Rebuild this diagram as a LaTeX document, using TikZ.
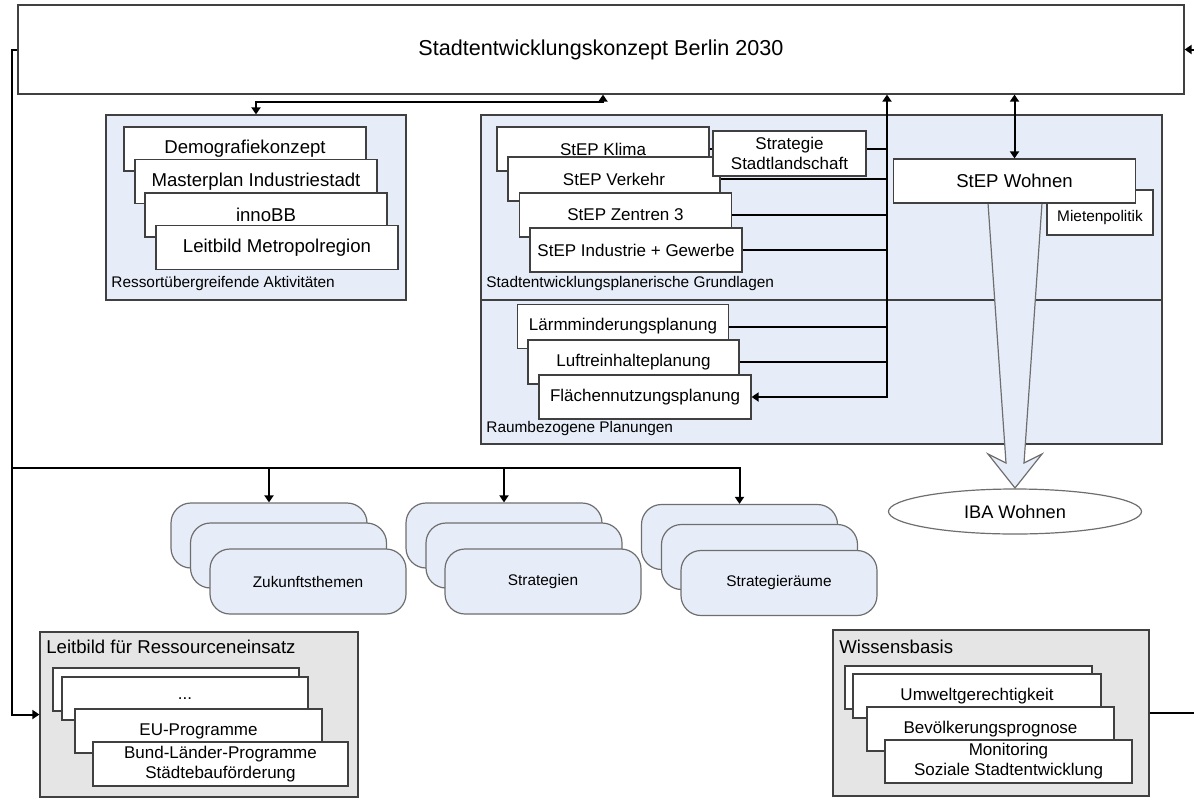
\documentclass[tikz,border=0pt]{standalone}
\usepackage{fontspec}
\setmainfont{Liberation Sans}
\usetikzlibrary{arrows.meta, shapes.geometric}

\definecolor{planblue}{RGB}{231,237,248}
\definecolor{basisgray}{RGB}{229,229,229}
\definecolor{framegray}{RGB}{64,64,64}
\definecolor{pillgray}{RGB}{110,110,110}

\begin{document}
\begin{tikzpicture}[x=0.5pt, y=-0.5pt,
    conn/.style={line width=1pt, >={Triangle[length=3.5pt,width=4.5pt]}},
    sheet/.style={draw=framegray, fill=white, line width=0.6pt, inner sep=0pt, align=center,
        minimum width=106pt, minimum height=22pt, font=\fontsize{8.5}{10}\selectfont},
    big/.style={minimum width=121pt, font=\fontsize{9.3}{11}\selectfont},
    panel/.style={draw=framegray, fill=planblue, line width=0.6pt, inner sep=0pt},
    pill/.style={draw=pillgray, fill=planblue, line width=0.6pt, rounded corners=10pt,
        minimum width=98pt, minimum height=32.5pt, inner sep=0pt, font=\fontsize{7.7}{9}\selectfont},
    caption/.style={anchor=west, inner sep=0pt, font=\fontsize{7.7}{9}\selectfont},
    heading/.style={anchor=west, inner sep=0pt, font=\fontsize{9.3}{11}\selectfont}]
    \useasboundingbox (0,0) rectangle (1194,798);
    \clip (0,0) rectangle (1194,798);

    % Konzept
    \node[draw=framegray, fill=white, line width=0.6pt, inner sep=0pt, minimum width=583pt,
        minimum height=44.5pt, font=\fontsize{10.8}{13}\selectfont] (konzept) at (601,49.5)
        {Stadtentwicklungskonzept Berlin 2030};

    % Ressortuebergreifende Aktivitaeten
    \node[panel, minimum width=150pt, minimum height=92.5pt] (ressort) at (256,207.5) {};
    \node[caption] (ressortlabel) at (111,284) {Ressortübergreifende Aktivitäten};
    \node[sheet, big] (demografie) at (245,149) {Demografiekonzept};
    \node[sheet, big] (masterplan) at (256,181.5) {Masterplan Industriestadt};
    \node[sheet, big] (innobb) at (266,215) {innoBB};
    \node[sheet, big] (metropol) at (277,247.5) {Leitbild Metropolregion};

    % Grundlagen / Planungen
    \node[panel, minimum width=340.5pt, minimum height=92.5pt] (grundlagen) at (821.5,207.5) {};
    \node[panel, minimum width=340.5pt, minimum height=72pt] (raum) at (821.5,372) {};
    \node[caption] (grundlagenlabel) at (486,284) {Stadtentwicklungsplanerische Grundlagen};
    \node[caption] (raumlabel) at (486,429) {Raumbezogene Planungen};

    \node[sheet] (klima) at (603,149) {StEP Klima};
    \node[sheet] (verkehr) at (614,179) {StEP Verkehr};
    \node[sheet] (zentren) at (625.5,215) {StEP Zentren 3};
    \node[sheet] (industrie) at (636,250) {StEP Industrie + Gewerbe};
    \node[sheet, minimum width=76.5pt, minimum height=22.5pt] (landschaft) at (789.5,153.5)
        {Strategie\\Stadtlandschaft};

    \node[sheet, minimum width=105.5pt] (laerm) at (623,326.5) {Lärmminderungsplanung};
    \node[sheet, minimum width=105.5pt] (luft) at (633.5,362) {Luftreinhalteplanung};
    \node[sheet] (flaeche) at (645,397) {Flächennutzungsplanung};

    % Pfeil zur IBA
    \draw[draw=pillgray, fill=planblue, line width=0.6pt] (988,203) -- (1006,463) -- (988,454)
        -- (1015,488) -- (1042,454) -- (1024,463) -- (1042,203) -- cycle;

    \node[sheet, minimum width=53pt, minimum height=22.5pt,
        label={[font=\fontsize{7.7}{9}\selectfont, yshift=-2.75pt]center:Mietenpolitik}]
        (mieten) at (1100,212.5) {};
    \node[sheet, big] (wohnen) at (1014.5,181) {StEP Wohnen};
    \node[ellipse, draw=pillgray, fill=white, line width=0.6pt, inner sep=0pt, minimum width=126.5pt,
        minimum height=22.5pt, font=\fontsize{9.1}{11}\selectfont] (iba) at (1015,511.5) {IBA Wohnen};

    % Zukunftsthemen, Strategien, Strategieraeume
    \node[pill] (themen1) at (269,535.5) {};
    \node[pill] (themen2) at (288.5,555.5) {};
    \node[pill] (themen3) at (308,581.5) {Zukunftsthemen};
    \node[pill] (strat1) at (504,535.5) {};
    \node[pill] (strat2) at (524,555.5) {};
    \node[pill] (strat3) at (543,581.5) {Strategien};
    \node[pill] (raeume1) at (739.5,537) {};
    \node[pill] (raeume2) at (759.5,557) {};
    \node[pill] (raeume3) at (779,583) {Strategieräume};

    % Leitbild fuer Ressourceneinsatz
    \node[panel, fill=basisgray, minimum width=159pt, minimum height=82.5pt] (ressourcen) at (199,714.5) {};
    \node[heading] (ressourcenlabel) at (46,647) {Leitbild für Ressourceneinsatz};
    \node[sheet, minimum width=123pt, minimum height=21.5pt] (prog1) at (176,689.5) {};
    \node[sheet, minimum width=123pt, minimum height=21.5pt] (prog2) at (185,698.5) {...};
    \node[sheet, minimum width=123.5pt] (eu) at (198.5,731) {EU-Programme};
    \node[sheet, minimum width=127.5pt] (bund) at (220.5,764) {Bund-Länder-Programme\\Städtebauförderung};

    % Wissensbasis
    \node[panel, fill=basisgray, minimum width=158pt, minimum height=83pt] (wissen) at (991,713) {};
    \node[heading] (wissenlabel) at (839,647) {Wissensbasis};
    \node[sheet, minimum width=123.5pt, minimum height=21.5pt] (basis1) at (968.5,687.5) {};
    \node[sheet, minimum width=124pt] (umwelt) at (977,696) {Umweltgerechtigkeit};
    \node[sheet, minimum width=123.5pt] (prognose) at (990.5,729) {Bevölkerungsprognose};
    \node[sheet, minimum width=123.5pt, minimum height=21.5pt] (monitoring) at (1008.5,761.5)
        {Monitoring\\Soziale Stadtentwicklung};

    % Verbindungen
    \draw[conn, <->] (ressort.north) -- ++(0,-12) -| (klima.north |- konzept.south);
    \coordinate (bus) at (887,397);
    \draw[conn, <->] (flaeche.east) -- (bus) -- (bus |- konzept.south);
    \draw[conn] (klima.east) -- (klima.east -| landschaft.west);
    \draw[conn] (klima.east -| landschaft.east) -- (klima.east -| bus);
    \draw[conn] (verkehr.east) -- (verkehr.east -| bus);
    \draw[conn] (zentren.east) -- (zentren.east -| bus);
    \draw[conn] (industrie.east) -- (industrie.east -| bus);
    \draw[conn] (laerm.east) -- (laerm.east -| bus);
    \draw[conn] (luft.east) -- (luft.east -| bus);
    \draw[conn, <->] (wohnen.north) -- (wohnen.north |- konzept.south);

    \coordinate (links) at (12,468);
    \draw[conn, ->] (konzept.west) -| (links) |- (ressourcen.west);
    \draw[conn, ->] (links) -| (themen1.north);
    \draw[conn, ->] (links) -| (strat1.north);
    \draw[conn, ->] (links) -| (raeume1.north);
    \draw[conn, ->] (wissen.east) -- ++(60,0) |- (konzept.east);
\end{tikzpicture}
\end{document}
